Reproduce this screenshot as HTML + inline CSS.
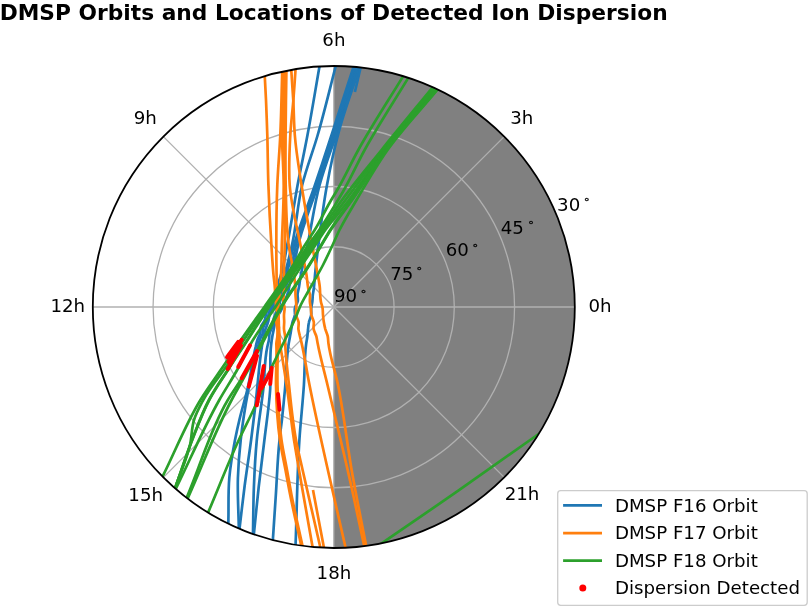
<!DOCTYPE html>
<html><head><meta charset="utf-8"><title>DMSP Orbits and Locations of Detected Ion Dispersion</title>
<style>
html,body{margin:0;padding:0;background:#fff;}
svg{display:block}
text{font-family:"DejaVu Sans","Liberation Sans",sans-serif;fill:#000}
.t{font-size:18.2px}
.title{font-size:21px;font-weight:bold}
.ring{font-size:11px;stroke:#000;stroke-width:0.3px}
.grid{stroke:#b0b0b0;stroke-width:1.3;fill:none}
.b{stroke:#1f77b4;fill:none;stroke-width:2.7;stroke-linecap:butt;stroke-linejoin:round}
.o{stroke:#ff7f0e;fill:none;stroke-width:2.7;stroke-linecap:butt;stroke-linejoin:round}
.g{stroke:#2ca02c;fill:none;stroke-width:2.7;stroke-linecap:butt;stroke-linejoin:round}
.r{stroke:#ff0000;fill:none;stroke-width:4;stroke-linecap:round;stroke-linejoin:round}
</style></head><body>
<svg width="809" height="608" viewBox="0 0 809 608">
<rect width="809" height="608" fill="#fff"/>
<defs><clipPath id="c"><circle cx="333.8" cy="307.0" r="241.0"/></clipPath></defs>
<text class="title" x="-0.35" y="20.3" textLength="668" lengthAdjust="spacingAndGlyphs">DMSP Orbits and Locations of Detected Ion Dispersion</text>
<g clip-path="url(#c)">
<rect x="333.8" y="64.0" width="245.0" height="486.0" fill="#808080"/>

<circle class="grid" cx="333.8" cy="307.0" r="60.25"/>
<circle class="grid" cx="333.8" cy="307.0" r="120.50"/>
<circle class="grid" cx="333.8" cy="307.0" r="180.75"/>
<line class="grid" x1="333.8" y1="307.0" x2="574.80" y2="307.00"/>
<line class="grid" x1="333.8" y1="307.0" x2="504.21" y2="136.59"/>
<line class="grid" x1="333.8" y1="307.0" x2="333.80" y2="66.00"/>
<line class="grid" x1="333.8" y1="307.0" x2="163.39" y2="136.59"/>
<line class="grid" x1="333.8" y1="307.0" x2="92.80" y2="307.00"/>
<line class="grid" x1="333.8" y1="307.0" x2="163.39" y2="477.41"/>
<line class="grid" x1="333.8" y1="307.0" x2="333.80" y2="548.00"/>
<line class="grid" x1="333.8" y1="307.0" x2="504.21" y2="477.41"/>
<path class="b" d="M320.4,61.1C320.1,63.1 319.7,65.0 319.4,67.0C315.4,89.7 311.8,112.4 307.5,135.0C304.4,151.7 300.7,168.3 297.6,185.0C293.9,205.0 291.1,225.1 287.2,245.0C285.2,255.0 284.0,265.3 281.0,275.0C280.1,277.8 279.0,280.6 278.1,283.4C277.2,286.2 276.6,289.0 275.5,291.7C274.4,294.6 272.7,297.2 271.6,300.0C270.7,302.2 270.0,304.5 269.1,306.7C268.2,308.9 266.9,311.0 266.2,313.3C265.5,315.5 265.6,317.9 264.8,320.0C264.0,322.4 261.8,324.2 261.0,326.6C260.4,328.7 260.7,331.1 260.1,333.3C259.5,335.6 258.1,337.7 257.4,340.0C256.7,342.2 256.2,344.6 255.7,346.9C252.3,360.8 250.8,375.1 247.5,389.0C245.1,399.1 242.0,408.9 239.6,419.0C237.9,426.0 236.4,433.0 235.0,440.0C232.6,452.6 230.4,465.3 229.3,478.0C228.1,491.8 228.7,505.7 228.4,519.5C228.4,521.5 228.3,523.5 228.3,525.5"/>
<path class="b" d="M337.0,61.2C336.5,63.1 336.0,65.1 335.5,67.0C329.6,89.7 324.2,112.5 317.7,135.0C312.9,151.8 306.3,168.1 302.2,185.0C297.4,204.7 296.5,225.2 292.0,245.0C289.7,255.1 287.5,265.2 284.3,275.0C283.4,277.8 282.4,280.6 281.4,283.4C280.4,286.2 279.3,289.0 278.3,291.7C277.3,294.5 276.5,297.3 275.3,300.0C274.2,302.3 272.8,304.4 271.7,306.7C270.6,308.8 269.5,311.0 268.8,313.3C268.1,315.5 268.2,317.9 267.4,320.0C266.6,322.4 264.4,324.2 263.6,326.6C262.8,328.7 263.1,331.1 262.5,333.3C261.8,335.6 260.5,337.7 259.8,340.0C259.0,342.3 258.6,344.6 258.0,346.9C254.5,360.9 251.2,374.9 248.5,389.0C245.3,405.9 242.5,422.9 240.7,440.0C239.3,452.6 238.3,465.3 237.9,478.0C237.4,494.3 238.5,510.7 238.8,527.0C238.8,529.0 238.9,531.0 238.9,533.0"/>
<path class="b" d="M355.0,62.3C354.4,64.2 353.8,66.1 353.2,68.0C346.5,88.7 339.9,109.4 333.2,130.0C327.2,148.4 321.2,166.7 315.0,185.0C308.2,205.1 299.8,224.6 294.0,245.0C291.2,254.9 289.1,265.1 286.3,275.0C285.5,277.8 284.7,280.7 283.9,283.5C283.0,286.3 282.3,289.2 281.2,291.9C280.2,294.7 279.0,297.4 277.7,300.0C275.5,304.2 271.5,307.6 270.0,312.0C269.0,314.9 269.1,318.3 268.3,321.3C267.5,324.6 265.8,327.7 264.9,331.0C264.3,333.3 263.8,335.6 263.3,338.0C262.8,340.3 262.5,342.7 262.1,345.0C258.9,364.9 257.8,385.0 255.4,405.0C254.0,416.7 252.6,428.3 251.1,440.0C249.1,455.7 246.5,471.3 244.5,487.0C242.8,500.3 241.3,513.7 239.7,527.0C239.5,529.0 239.2,531.0 239.0,533.0"/>
<path class="b" d="M356.9,62.3C356.2,64.2 355.6,66.1 355.0,68.0C348.3,88.7 341.6,109.4 334.8,130.0C328.8,148.4 322.7,166.7 316.5,185.0C309.8,205.0 301.2,224.5 296.0,245.0C293.5,254.9 292.5,265.2 289.7,275.0C288.9,277.8 288.1,280.6 287.1,283.4C286.2,286.2 285.1,289.0 284.0,291.7C282.9,294.5 281.5,297.2 280.5,300.0C279.8,302.2 279.4,304.5 278.7,306.7C277.9,308.9 276.7,311.0 275.8,313.3C274.9,315.5 273.8,317.7 273.3,320.0C272.7,322.1 273.0,324.5 272.4,326.6C271.8,328.9 270.2,331.0 269.6,333.3C269.1,335.4 269.3,337.8 268.9,340.0C268.5,342.3 267.8,344.6 267.3,346.9C264.3,360.7 264.8,375.0 263.3,389.0C261.4,406.0 258.4,422.9 256.8,440.0C255.3,455.6 254.5,471.3 253.9,487.0C253.3,502.3 253.3,517.5 253.0,532.8C253.0,534.8 252.9,536.8 252.9,538.8"/>
<path class="b" d="M358.7,62.3C358.1,64.2 357.4,66.1 356.8,68.0C350.0,88.7 343.3,109.4 336.4,130.0C330.3,148.3 324.1,166.7 318.0,185.0C311.4,205.0 303.2,224.6 298.2,245.0C295.8,254.9 294.4,265.1 292.0,275.0C291.3,277.8 290.5,280.6 289.8,283.4C289.2,286.2 288.9,289.1 288.2,291.8C287.4,294.6 286.3,297.3 285.2,300.0C283.8,303.7 282.6,307.5 280.8,311.0C279.3,313.9 276.8,316.4 275.7,319.4C274.7,322.1 274.6,325.1 274.0,328.0C273.5,330.8 272.8,333.6 272.3,336.4C271.8,339.3 271.4,342.1 271.1,345.0C269.4,359.6 271.1,374.4 270.2,389.0C269.1,406.1 266.4,423.0 264.4,440.0C262.6,455.7 260.5,471.3 258.7,487.0C257.0,502.3 255.6,517.5 254.0,532.8C253.8,534.8 253.6,536.8 253.4,538.8"/>
<path class="b" d="M360.1,62.3C359.4,64.2 358.8,66.1 358.2,68.0C351.4,88.7 344.7,109.4 337.9,130.0C331.8,148.3 324.6,166.4 319.6,185.0C314.3,204.7 311.7,225.0 307.5,245.0C305.1,256.7 301.8,268.2 300.0,280.0C299.7,282.3 299.4,284.7 299.0,287.0C298.6,289.3 297.8,291.6 297.6,294.0C297.4,296.3 298.2,298.8 297.8,301.0C297.4,303.5 295.3,305.6 294.9,308.0C294.4,310.3 295.2,312.7 294.9,315.0C294.5,317.6 293.1,320.0 292.4,322.5C291.8,325.0 291.6,327.5 291.1,330.0C290.8,332.2 290.4,334.3 290.0,336.5C289.6,338.6 289.2,340.8 288.8,343.0C286.3,358.1 286.4,373.7 285.0,389.0C284.1,399.0 283.1,409.0 282.0,419.0C281.2,426.0 280.2,433.0 279.5,440.0C277.5,458.9 277.0,478.0 275.7,497.0C274.8,511.1 273.8,525.3 272.9,539.4C272.8,541.4 272.6,543.4 272.5,545.4"/>
<path class="b" d="M361.3,62.3C360.6,64.2 360.0,66.1 359.4,68.0C352.7,88.7 344.9,109.0 339.3,130.0C334.4,148.1 330.4,166.5 327.0,185.0C323.3,204.9 320.9,224.9 318.4,245.0C317.2,255.0 315.9,265.0 315.0,275.0C314.6,279.4 314.4,283.9 313.8,288.4C313.6,290.6 313.1,292.8 312.8,295.0C312.6,297.2 312.6,299.5 312.3,301.7C312.0,303.9 311.4,306.1 311.2,308.4C311.0,310.6 311.5,312.8 311.2,315.0C310.9,317.6 309.4,319.9 308.9,322.5C308.3,325.0 308.2,327.5 308.0,330.0C307.7,332.3 307.6,334.6 307.3,336.8C307.0,339.1 306.5,341.4 306.2,343.7C304.3,357.3 304.8,371.2 303.9,385.0C302.7,403.4 300.6,421.6 299.4,440.0C297.1,474.6 296.9,509.3 295.6,544.0C295.5,546.0 295.5,548.0 295.4,550.0"/>
<path class="b" d="M361.8,62.7C361.3,64.6 360.9,66.6 360.4,68.5C358.6,76.3 356.7,84.2 354.9,92.0"/>
<path class="o" d="M264.5,70.7C264.6,72.7 264.7,74.7 264.8,76.7C265.2,84.5 265.6,92.2 266.0,100.0C266.5,111.7 266.9,123.3 267.3,135.0C267.8,151.7 267.8,168.3 268.4,185.0C269.1,205.0 270.1,225.0 271.4,245.0C272.0,255.0 272.6,265.0 273.5,275.0C273.9,279.4 274.6,283.9 274.9,288.3C275.0,290.5 275.1,292.8 275.2,295.0C275.4,297.2 275.7,299.4 275.8,301.7C276.0,303.9 276.0,306.1 276.3,308.3C276.6,310.6 277.7,312.8 277.7,315.0C277.8,317.3 276.4,319.7 276.4,322.0C276.3,324.3 277.2,326.6 277.4,329.0C277.5,331.3 277.6,333.7 277.4,336.0C277.3,338.3 276.6,340.7 276.4,343.0C276.3,345.3 276.5,347.7 276.5,350.0C276.6,361.7 275.8,373.3 276.0,385.0C276.3,403.4 277.3,421.8 279.9,440.0C281.4,450.1 283.6,460.0 285.5,470.0C287.0,478.0 288.4,486.0 290.0,494.0C293.4,511.2 297.5,528.3 301.2,545.5C301.6,547.5 302.1,549.4 302.5,551.4"/>
<path class="o" d="M282.4,66.0C282.3,68.0 282.3,70.0 282.2,72.0C281.6,93.0 281.3,114.0 280.3,135.0C279.5,151.7 278.0,168.3 277.3,185.0C276.5,205.0 276.3,225.0 276.3,245.0C276.3,255.0 276.4,265.0 276.6,275.0C276.7,279.4 276.3,283.9 276.9,288.3C277.2,290.6 277.9,292.8 278.1,295.0C278.3,297.2 278.1,299.4 278.1,301.7C278.0,303.9 277.7,306.1 277.8,308.3C277.8,310.6 278.2,312.8 278.4,315.0C278.6,317.3 278.7,319.7 278.8,322.0C278.8,324.3 279.0,326.7 278.8,329.0C278.7,331.3 278.0,333.7 277.9,336.0C277.8,338.3 278.4,340.7 278.4,343.0C278.4,345.3 278.1,347.7 278.0,350.0C277.4,361.7 277.3,373.3 277.5,385.0C277.9,403.4 278.9,421.8 281.5,440.0C282.9,450.0 285.2,460.0 287.0,470.0C288.4,478.0 289.8,486.0 291.3,494.0C294.6,511.2 298.7,528.3 302.4,545.5C302.8,547.5 303.2,549.4 303.7,551.4"/>
<path class="o" d="M283.8,65.5C283.7,67.5 283.7,69.5 283.6,71.5C283.1,92.7 281.8,113.8 282.0,135.0C282.1,151.7 283.6,168.3 283.7,185.0C283.8,205.0 282.4,225.0 281.8,245.0C281.5,255.0 281.7,265.0 281.0,275.0C280.8,277.8 280.6,280.6 280.4,283.3C280.1,286.1 279.9,288.9 279.7,291.7C279.5,294.4 279.4,297.2 279.1,300.0C278.9,302.2 278.3,304.4 278.3,306.7C278.2,308.9 278.9,311.1 278.8,313.3C278.8,315.6 277.9,317.8 277.9,320.0C277.9,322.5 278.7,325.0 278.9,327.5C279.2,330.0 279.2,332.5 279.4,335.0C279.5,337.5 279.4,340.0 279.7,342.5C280.0,345.0 280.6,347.5 281.0,350.0C283.0,361.6 284.8,373.3 286.6,385.0C289.3,403.3 291.2,421.7 294.0,440.0C295.6,450.0 297.3,460.0 299.0,470.0C303.3,495.4 307.9,520.7 312.4,546.0C312.7,548.0 313.1,549.9 313.4,551.9"/>
<path class="o" d="M285.1,65.0C285.1,67.0 285.0,69.0 285.0,71.0C284.6,92.3 283.7,113.7 283.8,135.0C283.9,151.7 284.8,168.3 285.0,185.0C285.2,205.0 285.0,225.0 284.7,245.0C284.5,255.0 284.1,265.0 284.0,275.0C284.0,279.4 284.1,283.9 284.0,288.3C283.9,290.6 283.8,292.8 283.7,295.0C283.6,297.2 283.2,299.5 283.4,301.7C283.5,303.9 284.5,306.1 284.6,308.3C284.7,310.5 284.0,312.8 284.0,315.0C283.9,317.3 284.2,319.7 284.2,322.0C284.2,324.3 283.8,326.7 284.0,329.0C284.1,331.4 284.9,333.7 285.1,336.0C285.3,338.4 285.2,340.7 285.2,343.0C285.6,357.1 287.5,371.0 289.0,385.0C290.9,403.4 292.6,421.8 296.0,440.0C297.9,450.1 300.4,460.0 302.6,470.0C308.2,495.4 314.2,520.7 320.0,546.0C320.4,547.9 320.9,549.9 321.3,551.8"/>
<path class="o" d="M286.5,65.0C286.4,67.0 286.4,69.0 286.4,71.0C286.1,92.3 285.7,113.7 285.6,135.0C285.5,151.7 285.3,168.3 285.7,185.0C286.2,205.0 286.1,225.2 288.7,245.0C290.0,255.0 292.7,264.9 294.0,275.0C294.6,279.4 295.2,283.9 295.4,288.3C295.5,290.5 295.4,292.8 295.5,295.0C295.6,297.2 295.9,299.4 296.1,301.7C296.2,303.9 296.3,306.1 296.3,308.3C296.3,310.6 295.7,312.8 296.0,315.0C296.4,317.4 298.2,319.6 298.6,322.0C299.0,324.3 298.2,326.8 298.4,329.1C298.6,331.4 299.4,333.8 299.9,336.1C300.5,338.4 301.1,340.8 301.6,343.1C304.8,357.0 306.7,371.1 309.5,385.0C315.4,415.1 322.3,445.0 329.0,475.0C334.3,498.7 339.8,522.3 345.2,546.0C345.6,547.9 346.1,549.9 346.5,551.8"/>
<path class="o" d="M295.9,64.0C295.8,66.0 295.6,68.0 295.5,70.0C294.8,80.3 294.1,90.5 293.3,100.8C292.4,112.2 290.9,123.6 290.3,135.0C289.4,151.6 288.5,168.5 289.7,185.0C291.2,205.2 296.6,225.0 300.5,245.0C302.4,255.0 305.0,264.9 306.5,275.0C307.2,279.4 307.3,283.9 308.2,288.3C308.7,290.6 309.7,292.7 310.0,295.0C310.2,297.2 309.7,299.5 309.9,301.7C310.0,303.9 310.6,306.1 310.9,308.4C311.2,310.6 311.0,312.8 311.4,315.0C311.9,317.4 313.5,319.6 313.8,322.1C314.1,324.3 313.2,326.8 313.6,329.1C314.0,331.5 315.6,333.7 316.3,336.1C316.9,338.4 317.1,340.8 317.6,343.1C320.2,357.2 324.2,371.0 327.5,385.0C334.6,415.0 342.0,444.9 348.8,475.0C354.1,498.3 358.9,521.7 364.0,545.0C364.4,547.0 364.8,548.9 365.3,550.9"/>
<path class="o" d="M290.9,64.5C291.0,66.5 291.2,68.5 291.3,70.5C292.0,80.6 292.7,90.7 293.3,100.8C293.9,112.2 293.9,123.6 294.8,135.0C296.1,151.7 299.0,168.4 301.5,185.0C304.6,205.1 308.3,225.0 312.0,245.0C313.9,255.0 316.1,265.0 317.8,275.0C318.6,279.4 319.6,283.8 319.9,288.3C320.1,290.5 320.0,292.8 320.2,295.0C320.3,297.2 320.5,299.5 320.9,301.7C321.3,303.9 322.3,306.1 322.6,308.4C322.9,310.5 322.8,312.8 323.0,315.0C323.2,317.4 323.4,319.7 323.8,322.0C324.2,324.4 324.7,326.8 325.3,329.1C326.0,331.4 327.2,333.7 327.7,336.1C328.2,338.4 328.1,340.7 328.4,343.1C330.2,357.3 335.1,371.0 338.0,385.0C344.1,414.7 347.1,445.1 352.5,475.0C356.7,498.4 361.5,521.7 366.0,545.0C366.4,547.0 366.8,548.9 367.1,550.9"/>
<path class="o" d="M313.0,490.0C316.5,508.7 320.1,527.3 323.6,546.0C324.0,548.0 324.3,549.9 324.7,551.9"/>
<path class="g" d="M405.4,72.5C404.4,74.2 403.3,75.9 402.3,77.6C387.6,101.7 372.0,125.3 358.3,150.0C351.0,163.2 344.8,177.0 337.2,190.0C335.2,193.4 333.2,196.6 331.2,200.0C325.4,209.8 320.7,220.3 314.7,230.0C311.6,235.1 308.1,239.9 305.0,245.0C300.9,251.6 297.4,258.4 293.3,265.0C284.4,279.4 274.2,292.9 264.5,306.7C256.9,317.5 249.0,328.1 241.5,339.0C236.4,346.5 231.5,354.1 226.5,361.6C217.9,374.5 208.4,386.8 200.4,400.0C186.0,423.7 175.8,449.8 163.5,474.7C162.6,476.5 161.7,478.3 160.8,480.1"/>
<path class="g" d="M410.6,74.0C409.6,75.7 408.5,77.4 407.5,79.1C393.2,102.7 377.9,125.8 364.6,150.0C357.4,163.2 351.4,177.0 343.9,190.0C342.0,193.4 340.0,196.7 338.0,200.0C331.9,210.1 325.9,220.3 319.2,230.0C315.7,235.1 311.8,239.9 308.3,245.0C303.8,251.5 299.9,258.4 295.5,265.0C286.1,279.2 275.8,292.7 266.2,306.7C258.2,318.4 250.3,330.2 242.5,342.0C237.6,349.3 232.9,356.7 228.0,364.0C219.9,376.1 210.0,387.2 203.2,400.0C199.8,406.5 196.2,413.1 194.0,420.0C191.5,428.0 191.9,436.8 190.0,445.0C186.8,459.1 180.5,472.3 175.8,486.0C175.1,487.9 174.5,489.8 173.8,491.7"/>
<path class="g" d="M434.8,84.7C433.5,86.2 432.3,87.8 431.0,89.3C414.5,109.5 397.8,129.6 381.5,150.0C368.2,166.6 354.5,182.8 342.0,200.0C334.8,209.8 328.2,220.0 321.2,230.0C317.7,235.0 314.1,240.0 310.7,245.0C306.2,251.6 302.0,258.4 297.5,265.0C288.0,279.1 277.5,292.5 268.1,306.7C259.8,319.3 252.2,332.3 244.0,345.0C239.0,352.7 233.9,360.3 229.0,368.0C222.2,378.6 214.7,388.9 208.9,400.0C202.5,412.1 197.8,425.2 192.8,438.0C186.6,453.8 181.5,470.0 175.8,486.0C175.1,487.9 174.5,489.8 173.8,491.7"/>
<path class="g" d="M436.1,85.2C434.8,86.7 433.6,88.3 432.3,89.8C415.8,109.9 398.8,129.5 382.8,150.0C370.0,166.4 357.9,183.3 345.5,200.0C338.1,210.0 330.3,219.8 323.2,230.0C319.7,235.0 316.4,240.0 313.0,245.0C308.5,251.7 304.1,258.4 299.5,265.0C289.8,279.1 279.1,292.6 269.4,306.7C260.8,319.3 252.6,332.2 244.3,345.0C239.3,352.7 234.2,360.3 229.3,368.0C222.5,378.6 215.1,388.9 209.2,400.0C202.8,412.1 198.0,425.2 193.0,438.0C186.8,453.8 181.6,470.1 175.9,486.1C175.2,488.0 174.6,489.9 173.9,491.8"/>
<path class="g" d="M437.4,85.6C436.2,87.1 434.9,88.7 433.6,90.2C417.1,110.1 399.7,129.4 384.1,150.0C371.8,166.2 361.3,183.8 349.0,200.0C341.3,210.2 332.6,219.6 325.3,230.0C321.9,234.9 318.7,240.0 315.4,245.0C311.0,251.7 306.4,258.3 302.0,265.0C293.0,278.7 284.6,292.9 275.6,306.7C267.2,319.6 257.5,331.6 250.0,345.0C245.9,352.3 242.5,360.1 238.5,367.5C232.5,378.6 225.5,389.0 219.3,400.0C203.5,428.1 190.9,458.0 176.7,487.0C175.8,488.8 174.9,490.6 174.1,492.4"/>
<path class="g" d="M438.7,86.1C437.5,87.6 436.2,89.2 434.9,90.7C418.4,110.5 400.7,129.4 385.4,150.0C373.4,166.1 363.0,183.5 351.5,200.0C344.5,210.1 336.8,219.6 330.2,230.0C327.1,234.9 324.2,240.0 321.2,245.0C317.2,251.7 313.2,258.4 309.0,265.0C300.1,279.2 289.7,292.4 281.0,306.7C272.4,320.9 265.2,336.0 257.2,350.5C252.0,359.9 247.1,369.4 241.6,378.5C237.2,385.8 232.1,392.7 227.8,400.0C210.4,429.3 201.3,463.0 188.0,494.5C187.2,496.3 186.4,498.2 185.7,500.0"/>
<path class="g" d="M439.3,86.4C438.1,87.9 436.8,89.5 435.5,91.0C419.1,110.7 401.5,129.5 386.2,150.0C374.2,166.1 363.8,183.5 352.2,200.0C345.1,210.1 337.3,219.6 330.7,230.0C327.5,234.9 324.6,240.0 321.6,245.0C317.6,251.7 313.6,258.4 309.5,265.0C300.7,279.2 290.3,292.4 281.8,306.7C273.4,320.9 266.4,335.9 258.6,350.5C253.6,359.9 248.5,369.2 243.4,378.5C239.5,385.7 235.4,392.8 231.6,400.0C215.3,430.8 203.2,463.7 189.0,495.5C188.2,497.3 187.4,499.2 186.6,501.0"/>
<path class="g" d="M440.0,86.6C438.8,88.1 437.5,89.7 436.2,91.2C420.0,110.8 402.1,129.3 387.5,150.0C376.2,166.0 366.4,183.1 356.5,200.0C350.7,209.9 344.6,219.7 339.5,230.0C337.1,234.9 334.9,240.0 332.6,245.0C329.5,251.7 326.4,258.4 323.0,265.0C318.6,273.5 313.6,281.6 309.0,290.0C306.0,295.5 302.5,300.9 300.0,306.7C298.8,309.4 297.8,312.2 296.7,315.0C291.8,326.9 285.6,338.4 280.0,350.0C277.5,355.2 274.9,360.4 272.4,365.6C266.0,379.2 261.0,393.4 254.8,407.0C249.7,418.1 244.0,428.9 238.8,440.0C228.0,463.2 218.9,487.1 208.9,510.6C208.1,512.4 207.3,514.3 206.6,516.1"/>
<path class="g" d="M540.7,432.5C539.1,433.7 537.4,434.8 535.8,436.0C510.2,454.1 484.7,472.3 459.0,490.2C434.3,507.4 409.3,524.3 384.5,541.3C382.9,542.4 381.2,543.6 379.6,544.7"/>
<path class="r" d="M241.7,339.8L228.4,362.1"/>
<path class="r" d="M238.2,341.9L227.0,357.2"/>
<path class="r" d="M241.0,345.4L227.7,369.1"/>
<path class="r" d="M250.0,345.4L238.2,367.0"/>
<path class="r" d="M257.0,351.0L241.7,378.2"/>
<path class="r" d="M257.0,355.8L248.8,386.6"/>
<path class="r" d="M263.8,365.9L256.8,405.3"/>
<path class="r" d="M271.7,367.8L270.2,384.1"/>
<path class="r" d="M270.2,372.8L261.3,388.6"/>
<path class="r" d="M278.0,394.0L279.5,409.8"/>
</g>
<circle cx="333.8" cy="307.0" r="241.0" fill="none" stroke="#000" stroke-width="1.8"/>
<text class="t" x="333.9" y="46.0" text-anchor="middle">6h</text>
<text class="t" x="333.9" y="578.6" text-anchor="middle">18h</text>
<text class="t" x="67.8" y="311.9" text-anchor="middle">12h</text>
<text class="t" x="600" y="311.8" text-anchor="middle">0h</text>
<text class="t" x="145.3" y="123.6" text-anchor="middle">9h</text>
<text class="t" x="521.8" y="123.6" text-anchor="middle">3h</text>
<text class="t" x="145.7" y="500.8" text-anchor="middle">15h</text>
<text class="t" x="522" y="500.3" text-anchor="middle">21h</text>
<text class="t" x="333.9" y="302.3" text-anchor="start">90</text>
<text class="t" x="390.3" y="279.5" text-anchor="start">75</text>
<text class="t" x="445.7" y="256.2" text-anchor="start">60</text>
<text class="t" x="500.8" y="233.5" text-anchor="start">45</text>
<text class="t" x="557.1" y="210.8" text-anchor="start">30</text>
<text class="ring" x="363.2" y="295.09999999999997" text-anchor="middle">∘</text>
<text class="ring" x="419" y="272.0" text-anchor="middle">∘</text>
<text class="ring" x="475" y="248.8" text-anchor="middle">∘</text>
<text class="ring" x="530.8" y="225.9" text-anchor="middle">∘</text>
<text class="ring" x="586.4" y="202.8" text-anchor="middle">∘</text>
<rect x="557.7" y="490.7" width="249.5" height="114.6" rx="3" ry="3" fill="#fff" fill-opacity="0.8" stroke="#cccccc" stroke-width="1.3"/>
<line x1="563.1" x2="602" y1="505.4" y2="505.4" stroke="#1f77b4" stroke-width="2.7"/>
<line x1="563.1" x2="602" y1="533.1" y2="533.1" stroke="#ff7f0e" stroke-width="2.7"/>
<line x1="563.1" x2="602" y1="560.6" y2="560.6" stroke="#2ca02c" stroke-width="2.7"/>
<circle cx="582.8" cy="588.1" r="3.5" fill="#ff0000"/>
<text class="t" x="614.9" y="511.9">DMSP F16 Orbit</text>
<text class="t" x="614.9" y="539.3">DMSP F17 Orbit</text>
<text class="t" x="614.9" y="566.9">DMSP F18 Orbit</text>
<text class="t" x="614.9" y="594.2">Dispersion Detected</text>
</svg></body></html>
